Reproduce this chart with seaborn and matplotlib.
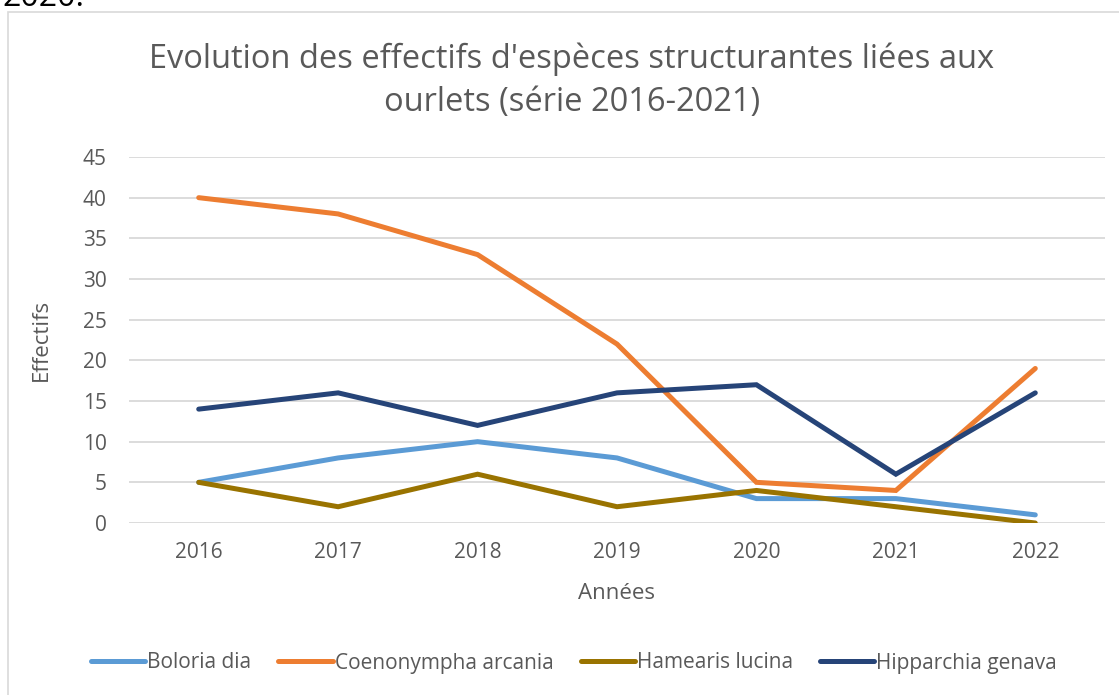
import matplotlib
matplotlib.use("Agg")
import matplotlib.pyplot as plt
import seaborn as sns
import pandas as pd
from matplotlib.patches import Rectangle
from matplotlib.lines import Line2D

# Data
years = [2016, 2017, 2018, 2019, 2020, 2021, 2022]
boloria = [5, 8, 10, 8, 3, 3, 1]
coenonympha = [40, 38, 33, 22, 5, 4, 19]
hamearis = [5, 2, 6, 2, 4, 2, 0]
hipparchia = [14, 16, 12, 16, 17, 6, 16]
species = ["Boloria dia", "Coenonympha arcania", "Hamearis lucina", "Hipparchia genava"]
colors = ["#5B9BD5", "#ED7D31", "#997300", "#264478"]

df = pd.DataFrame({
    "idx": list(range(len(years))) * 4,
    "Effectifs": boloria + coenonympha + hamearis + hipparchia,
    "Espece": [s for s in species for _ in years],
})

sns.set_theme(style="white")
plt.rcParams["font.family"] = ["Open Sans", "DejaVu Sans"]
txt = "#595959"

fig = plt.figure(figsize=(11.19, 6.95), dpi=100)
W, H = 1119, 695
ax = fig.add_axes([129 / W, 1 - 523 / H, (1105 - 129) / W, (523 - 157) / H])

sns.lineplot(data=df, x="idx", y="Effectifs", hue="Espece", palette=colors,
             linewidth=3.6, ax=ax, legend=False, solid_capstyle="round")
for ln in ax.lines:
    ln.set_solid_joinstyle("miter")

ax.set_xlim(-0.5, len(years) - 0.5)
ax.set_ylim(0, 45)
ax.set_yticks(range(0, 50, 5))
ax.set_xticks(range(len(years)))
ax.set_xticklabels([str(y) for y in years])
ax.yaxis.grid(True, color="#d9d9d9", linewidth=1.3)
ax.set_axisbelow(True)
for s in ax.spines.values():
    s.set_visible(False)
ax.tick_params(axis="both", length=0, labelsize=15, labelcolor=txt)
ax.tick_params(axis="y", pad=16)
ax.tick_params(axis="x", pad=14)
ax.set_xlabel("Années", fontsize=16, color=txt, labelpad=14)
ax.set_ylabel("Effectifs", fontsize=16, color=txt, labelpad=22)

fig.text(572 / W, 1 - 81 / H,
         "Evolution des effectifs d'espèces structurantes liées aux\nourlets (série 2016-2021)",
         ha="center", va="center", fontsize=23.5, color=txt, linespacing=1.4)

# chart border and cut-off text above
fig.patches.append(Rectangle((8 / W, -0.05), 1.2, 1 - 12 / H + 0.05,
                             transform=fig.transFigure, fill=False,
                             edgecolor="#d9d9d9", linewidth=1.2))
fig.text(2 / W, 1 + 2 / H, "2020.", ha="left", va="center", fontsize=23, color="black")

handles = [Line2D([0], [0], color=c, linewidth=3.6, solid_capstyle="round") for c in colors]
fig.legend(handles, species, loc="center", bbox_to_anchor=(574 / W, 1 - 663 / H),
           ncol=4, frameon=False, fontsize=15, labelcolor=txt,
           handlelength=2.6, handletextpad=0.1, columnspacing=1.3)

fig.savefig("out.png", dpi=100, facecolor="white")
